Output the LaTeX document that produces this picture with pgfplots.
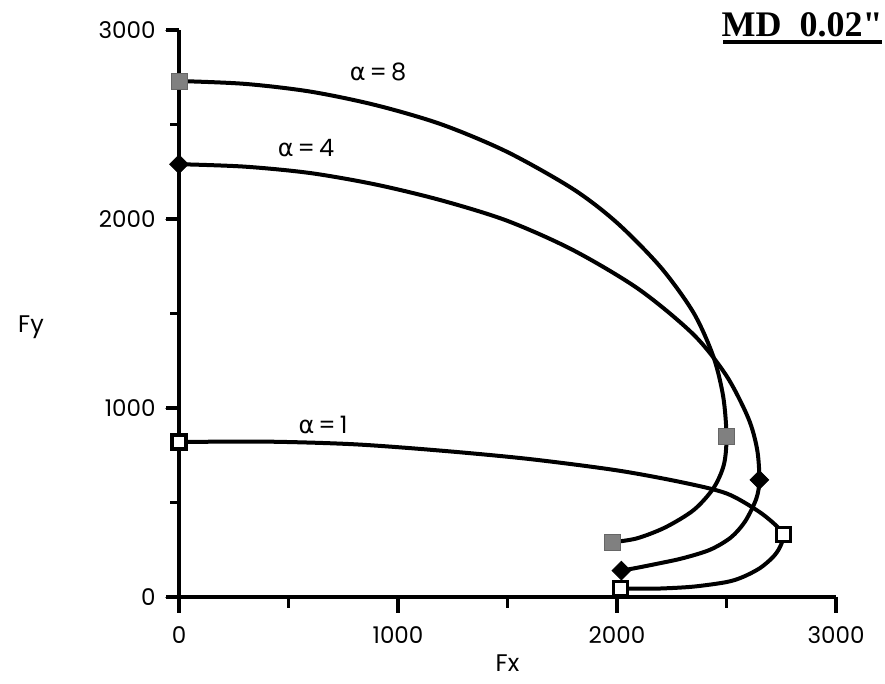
\documentclass[border=0pt]{standalone}
\usepackage{pgfplots}
\pgfplotsset{compat=1.18}
\usepackage{fontspec}
\setmainfont{Poppins}
\newfontfamily\grfont{DejaVu Sans}
\newfontfamily\titlefont{Liberation Serif}

% Fy against Fx for three values of alpha
\pgfplotstableread{
x y
0 2730
300 2715
600 2674
900 2602
1200 2500
1500 2354
1800 2158
2000 1980
2200 1744
2350 1503
2440 1272
2485 1060
2500 850
2488 700
2440 575
2350 460
2220 368
2090 310
1980 290
}\curveA
\pgfplotstableread{
x y
0 2290
300 2277
600 2243
900 2182
1200 2098
1500 1990
1800 1835
2100 1628
2350 1388
2500 1170
2600 945
2640 780
2650 620
2636 520
2585 400
2520 315
2425 250
2300 205
2180 175
2080 152
2020 140
}\curveB
\pgfplotstableread{
x y
0 820
400 822
800 808
1200 774
1600 730
2000 670
2300 606
2500 548
2640 458
2720 385
2760 330
2744 264
2712 211
2653 153
2575 106
2500 79
2350 55
2200 45
2080 44
2015 45
}\curveC

\begin{document}
\begin{tikzpicture}
\path[use as bounding box] (-179pt,-87pt) rectangle (706pt,597pt);
\begin{axis}[
  scale only axis,
  width=657pt, height=567pt,
  xmin=0, xmax=3000, ymin=0, ymax=3000,
  axis x line*=bottom, axis y line*=left,
  xtick={0,1000,2000,3000}, ytick={0,1000,2000,3000},
  minor tick num=1,
  tick align=outside,
  major tick length=14pt, minor tick length=9pt,
  tick label style={font=\fontsize{23}{26}\selectfont},
  xticklabel style={yshift=-12pt},
  yticklabel style={xshift=-6pt},
  /pgf/number format/assume math mode=true,
  /pgf/number format/set thousands separator={},
  scaled ticks=false,
  clip=false,
]
% heavy axis lines and tick marks
\draw[line width=3.6pt] (axis cs:0,0) -- (axis cs:3000,0);
\draw[line width=3.6pt] (axis cs:0,0) -- (axis cs:0,3000);
\pgfplotsinvokeforeach{0,1000,2000,3000}{
  \draw[line width=3.2pt] (axis cs:#1,0) -- ([yshift=-16pt]axis cs:#1,0);
  \draw[line width=3.2pt] (axis cs:0,#1) -- ([xshift=-13pt]axis cs:0,#1);
}
\pgfplotsinvokeforeach{500,1500,2500}{
  \draw[line width=3.2pt] (axis cs:#1,0) -- ([yshift=-11pt]axis cs:#1,0);
  \draw[line width=3.2pt] (axis cs:0,#1) -- ([xshift=-9pt]axis cs:0,#1);
}

\addplot[line width=4pt, smooth] table {\curveA};
\addplot[line width=4pt, smooth] table {\curveB};
\addplot[line width=4pt, smooth] table {\curveC};

% markers at the calculated states
\addplot[only marks, mark=square*, mark size=8pt,
  mark options={fill=black!50, draw=black!60, line width=0.8pt}]
  coordinates {(0,2730) (2500,850) (1980,290)};
\addplot[only marks, mark=square*, mark size=6.6pt,
  mark options={fill=black, draw=black, line width=0.8pt, rotate=45}]
  coordinates {(0,2290) (2650,620) (2020,140)};
\addplot[only marks, mark=square*, mark size=7pt,
  mark options={fill=white, draw=black, line width=3.4pt}]
  coordinates {(0,820) (2760,330) (2015,45)};

\node[font=\fontsize{24}{28}\selectfont] at (axis cs:909,2778) {{\grfont α}\,=\,8};
\node[font=\fontsize{24}{28}\selectfont] at (axis cs:580,2376) {{\grfont α}\,=\,4};
\node[font=\fontsize{24}{28}\selectfont] at (axis cs:658,910) {{\grfont α}\,=\,1};
\end{axis}
\node[font=\fontsize{24}{28}\selectfont] at (328.5pt,-66pt) {Fx};
\node[font=\fontsize{24}{28}\selectfont] at (-148pt,270pt) {Fy};
\node[anchor=base, font=\titlefont\bfseries\fontsize{36}{40}\selectfont] at (623pt,560pt) {MD\ \ 0.02"};
\draw[line width=3.4pt] (544pt,555pt) -- (703pt,555pt);
\end{tikzpicture}
\end{document}
